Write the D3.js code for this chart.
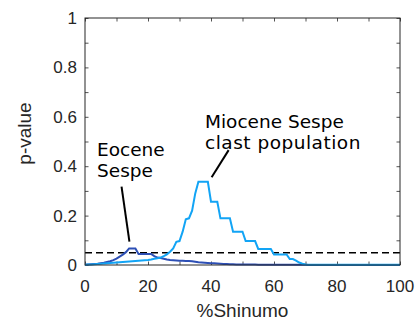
<!DOCTYPE html>
<html><head><meta charset="utf-8">
<script src="https://cdn.jsdelivr.net/npm/d3@7"></script>
<style>body{margin:0;background:#fff}</style>
</head><body><svg id="c" width="416" height="320"></svg>
<script>
const xs = d3.range(0, 101);
const eocene = [0.001,0.002,0.003,0.004,0.005,0.007,0.009,0.012,0.015,0.02,
 0.026,0.034,0.042,0.052,0.067,0.067,0.067,0.045,0.045,0.045,
 0.045,0.045,0.036,0.03,0.028,0.025,0.022,0.02,0.019,0.018,
 0.017,0.017,0.016,0.016,0.015,0.013,0.011,0.01,0.009,0.008,
 0.007,0.007,0.006,0.005,0.004,0.004,0.003,0.003,0.002,0.002,
 0.002,0.002,0.002,0.002,0.002,0.001,0.001,0.001,0.001,0.001,
 0.001,0.001,0.001,0.001,0.001,0.001,0.001,0.001,0.001,0.001,
 0.001,0,0,0,0,0,0,0,0,0,0,0,0,0,0,0,0,0,0,0,0,0,0,0,0,0,0,0,0,0,0];
const miocene = [0.001,0.002,0.002,0.003,0.004,0.005,0.006,0.007,0.008,0.009,
 0.01,0.011,0.012,0.013,0.014,0.015,0.016,0.017,0.018,0.019,
 0.02,0.022,0.025,0.027,0.03,0.036,0.043,0.054,0.067,0.094,
 0.097,0.135,0.185,0.189,0.22,0.29,0.337,0.337,0.337,0.337,
 0.256,0.256,0.256,0.189,0.189,0.189,0.189,0.135,0.135,0.135,
 0.135,0.097,0.097,0.097,0.097,0.065,0.065,0.065,0.065,0.065,
 0.043,0.043,0.043,0.043,0.043,0.024,0.024,0.018,0.01,0.005,
 0.002,0.001,0.001,0.001,0.001,0.001,0.001,0.001,0.001,0.001,
 0.001,0.001,0.001,0.001,0.001,0.001,0.001,0.001,0.001,0.001,
 0.001,0.001,0.001,0.001,0.001,0.001,0.001,0.001,0.001,0.001,0.001];
const threshold = 0.05;
const xTicks = [0,10,20,30,40,50,60,70,80,90,100];
const xLabels = [0,20,40,60,80,100];
const yTicks = [0,0.1,0.2,0.3,0.4,0.5,0.6,0.7,0.8,0.9,1];
const yLabels = [0,0.2,0.4,0.6,0.8,1];

const svg = d3.select("#c");
const m = {l:85, r:16, t:18, b:55};
const W = 416, H = 320;
const x = d3.scaleLinear().domain([0,100]).range([m.l, W-m.r]);
const y = d3.scaleLinear().domain([0,1]).range([H-m.b, m.t]);
const axisCol = "#262626";
const tickFont = "'Liberation Sans', Arial, sans-serif";

const g = svg.append("g");
const tl = 3.5;
const gx = g.append("g").attr("transform",`translate(0,${y(0)})`)
  .call(d3.axisBottom(x).tickValues(xTicks).tickSize(-tl).tickFormat(""));
const gxt = g.append("g").attr("transform",`translate(0,${y(1)})`)
  .call(d3.axisTop(x).tickValues(xTicks).tickSize(-tl).tickFormat(""));
const gy = g.append("g").attr("transform",`translate(${x(0)},0)`)
  .call(d3.axisLeft(y).tickValues(yTicks).tickSize(-tl).tickFormat(""));
const gyr = g.append("g").attr("transform",`translate(${x(100)},0)`)
  .call(d3.axisRight(y).tickValues(yTicks).tickSize(-tl).tickFormat(""));
[gx,gxt,gy,gyr].forEach(a=>{a.selectAll("path").remove();a.selectAll("line").attr("stroke",axisCol).attr("stroke-width",0.8);});

g.selectAll(".xl").data(xLabels).join("text")
  .attr("x",d=>x(d)).attr("y",y(0)+27).attr("text-anchor","middle")
  .attr("font-family",tickFont).attr("font-size",17).attr("fill",axisCol).text(d=>d);
g.selectAll(".yl").data(yLabels).join("text")
  .attr("x",x(0)-8).attr("y",d=>y(d)+6).attr("text-anchor","end")
  .attr("font-family",tickFont).attr("font-size",17).attr("fill",axisCol).text(d=>d);

g.append("line").attr("x1",x(0)).attr("x2",x(100)).attr("y1",y(threshold)).attr("y2",y(threshold))
  .attr("stroke","#000").attr("stroke-width",1.5).attr("stroke-dasharray","7,4");

const line = d3.line().x((d,i)=>x(xs[i])).y(d=>y(d));
g.append("path").datum(eocene).attr("d",line).attr("fill","none")
  .attr("stroke","#2d4fb5").attr("stroke-width",2);
g.append("path").datum(miocene).attr("d",line).attr("fill","none")
  .attr("stroke","#12a4f5").attr("stroke-width",2);

g.append("rect").attr("x",x(0)).attr("y",y(1)).attr("width",x(100)-x(0)).attr("height",y(0)-y(1))
  .attr("fill","none").attr("stroke",axisCol).attr("stroke-width",1);

g.append("text").attr("x",(x(0)+x(100))/2).attr("y",H-3).attr("text-anchor","middle")
  .attr("font-family",tickFont).attr("font-size",19).attr("fill",axisCol).text("%Shinumo");
g.append("text").attr("transform",`translate(31,${(y(0)+y(1))/2 - 8}) rotate(-90)`).attr("text-anchor","middle")
  .attr("font-family",tickFont).attr("font-size",19).attr("fill",axisCol).text("p-value");

const annFont = "'DejaVu Sans', sans-serif";
const ann = g.append("g").attr("font-family",annFont).attr("font-size",18.5).attr("fill","#000");
ann.append("text").attr("x",97).attr("y",y(0.44)).text("Eocene");
ann.append("text").attr("x",97).attr("y",y(0.355)).text("Sespe");
ann.append("text").attr("x",205).attr("y",y(0.555)).text("Miocene Sespe");
ann.append("text").attr("x",205).attr("y",y(0.47)).attr("letter-spacing",0.5).text("clast population");
g.append("line").attr("x1",x(11.6)).attr("y1",y(0.317)).attr("x2",x(14.1)).attr("y2",y(0.095))
  .attr("stroke","#000").attr("stroke-width",2);
g.append("line").attr("x1",x(45.6)).attr("y1",y(0.465)).attr("x2",x(40.2)).attr("y2",y(0.355))
  .attr("stroke","#000").attr("stroke-width",2);
</script></body></html>
